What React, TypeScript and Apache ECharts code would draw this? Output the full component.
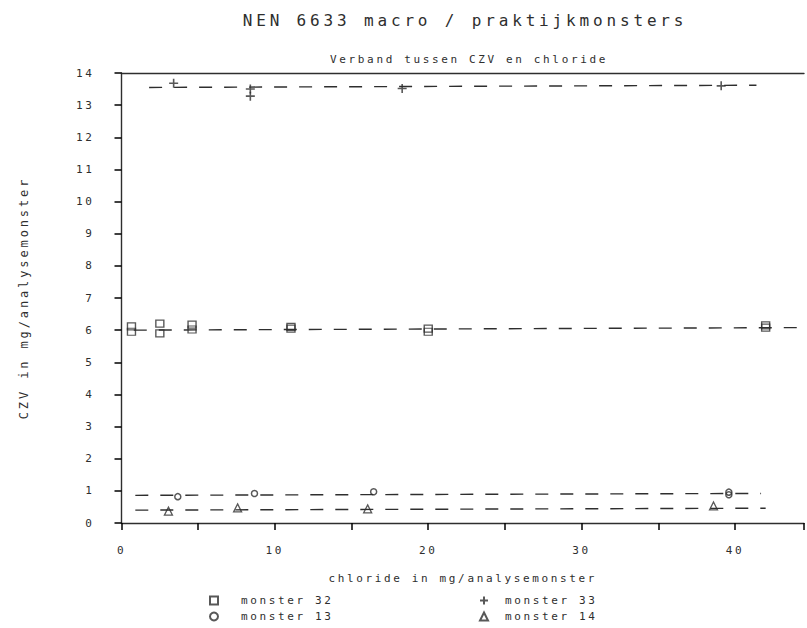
import React, { useEffect, useRef } from "react";
import * as echarts from "echarts";

const TITLE = "NEN 6633 macro / praktijkmonsters";
const SUBTITLE = "Verband tussen CZV en chloride";
const X_NAME = "chloride in mg/analysemonster";
const Y_NAME = "CZV in mg/analysemonster";

const LEGEND_LEFT = ["monster 32", "monster 13"];
const LEGEND_RIGHT = ["monster 33", "monster 14"];

// [chloride, CZV]
const monster32: number[][] = [
  [0.65, 6.12], [0.65, 5.95], [2.5, 6.2], [2.5, 5.9], [4.6, 6.17], [4.6, 6.02],
  [11.05, 6.1], [11.05, 6.05], [20, 6.05], [20, 5.95], [42, 6.15], [42, 6.08],
];
const monster33: number[][] = [
  [3.4, 13.68], [8.4, 13.5], [8.4, 13.28], [18.3, 13.52], [39.1, 13.6],
];
const monster13: number[][] = [
  [3.67, 0.82], [8.67, 0.92], [16.44, 0.97], [39.6, 0.96], [39.6, 0.88],
];
const monster14: number[][] = [
  [3.06, 0.37], [7.57, 0.47], [16.05, 0.44], [38.6, 0.53],
];

// fitted (dashed) lines: [start, end]
const fit32: number[][] = [[0.8, 6.0], [44.5, 6.08]];
const fit33: number[][] = [[1.8, 13.55], [41.4, 13.62]];
const fit13: number[][] = [[0.9, 0.86], [41.7, 0.92]];
const fit14: number[][] = [[0.9, 0.4], [42.0, 0.46]];

const X_MIN = 0;
const X_MAX = 44.5;
const Y_MIN = 0;
const Y_MAX = 14;

const INK = "#2e2e2e";
const FONT = "'DejaVu Sans Mono', monospace";

export default function App() {
  const ref = useRef<HTMLDivElement>(null);

  useEffect(() => {
    if (!ref.current) return;
    const chart = echarts.init(ref.current, undefined, { renderer: "svg" });

    const txt = { fontFamily: FONT, fontSize: 11, color: INK };
    const hollow = (w: number) => ({
      color: "rgba(0,0,0,0)",
      borderColor: INK,
      borderWidth: w,
    });
    const dashed = { color: INK, width: 1.4, type: [13, 12] as number[] };
    const axisLine = { show: true, onZero: false, lineStyle: { color: INK, width: 1.4 } };

    const legendItem = (name: string, left: number, top: number, pad: number) => ({
      orient: "horizontal",
      left,
      top,
      padding: 0,
      itemWidth: 8,
      itemHeight: 8,
      selectedMode: false,
      data: [name],
      textStyle: { ...txt, padding: [0, 0, 0, pad] },
    });

    chart.setOption({
      animation: false,
      backgroundColor: "#ffffff",
      graphic: [
        {
          type: "text",
          x: 465,
          y: 20,
          style: {
            text: TITLE,
            font: `16px ${FONT}`,
            fill: INK,
            align: "center",
            verticalAlign: "middle",
          },
        },
        {
          type: "text",
          x: 469,
          y: 59,
          style: {
            text: SUBTITLE,
            font: `11px ${FONT}`,
            fill: INK,
            align: "center",
            verticalAlign: "middle",
          },
        },
      ],
      legend: [
        legendItem(LEGEND_LEFT[0], 209, 595, 18),
        legendItem(LEGEND_LEFT[1], 209, 611, 18),
        legendItem(LEGEND_RIGHT[0], 479, 595, 12),
        legendItem(LEGEND_RIGHT[1], 479, 611, 12),
      ],
      grid: {
        left: 121.5,
        right: -3,
        top: 73,
        bottom: 105,
        show: false,
      },
      xAxis: [
        {
          type: "value",
          min: X_MIN,
          max: X_MAX,
          interval: 5,
          name: X_NAME,
          nameLocation: "middle",
          nameGap: 50,
          nameTextStyle: txt,
          axisLine,
          axisTick: { show: true, length: 7, lineStyle: { color: "#000000", width: 1.5 } },
          axisLabel: {
            ...txt,
            margin: 22,
            formatter: (v: number) => (v % 10 === 0 ? String(v) : ""),
          },
          splitLine: { show: false },
        },
        {
          type: "value",
          position: "top",
          min: X_MIN,
          max: X_MAX,
          interval: 5,
          axisLine,
          axisTick: { show: false },
          axisLabel: { show: false },
          splitLine: { show: false },
        },
      ],
      yAxis: {
        type: "value",
        min: Y_MIN,
        max: Y_MAX,
        interval: 1,
        name: Y_NAME,
        nameLocation: "middle",
        nameGap: 92,
        nameTextStyle: { ...txt, fontSize: 12 },
        axisLine,
        axisTick: { show: true, length: 7, lineStyle: { color: "#000000", width: 1.5 } },
        axisLabel: { ...txt, margin: 27 },
        splitLine: { show: false },
      },
      series: [
        { name: "lijn 32", type: "line", data: fit32, symbol: "none", lineStyle: dashed, silent: true, z: 2 },
        { name: "lijn 33", type: "line", data: fit33, symbol: "none", lineStyle: dashed, silent: true, z: 2 },
        { name: "lijn 13", type: "line", data: fit13, symbol: "none", lineStyle: dashed, silent: true, z: 2 },
        { name: "lijn 14", type: "line", data: fit14, symbol: "none", lineStyle: dashed, silent: true, z: 2 },
        {
          name: "monster 32",
          type: "scatter",
          data: monster32,
          symbol: "rect",
          symbolSize: [8, 7],
          itemStyle: hollow(1.3),
          z: 3,
        },
        {
          name: "monster 33",
          type: "scatter",
          data: monster33,
          symbol: "path://M5,0V10M0,5H10",
          symbolSize: 9,
          itemStyle: hollow(1.6),
          z: 3,
        },
        {
          name: "monster 13",
          type: "scatter",
          data: monster13,
          symbol: "circle",
          symbolSize: 6,
          itemStyle: hollow(1.5),
          z: 3,
        },
        {
          name: "monster 14",
          type: "scatter",
          data: monster14,
          symbol: "triangle",
          symbolSize: 8,
          itemStyle: hollow(1.3),
          z: 3,
        },
      ],
    });

    return () => chart.dispose();
  }, []);

  return (
    <>
      <style>{".czv-chart text { letter-spacing: 0.24em; }"}</style>
      <div
        ref={ref}
        className="czv-chart"
        style={{ position: "absolute", left: 0, top: 0, width: 807, height: 628 }}
      />
    </>
  );
}
